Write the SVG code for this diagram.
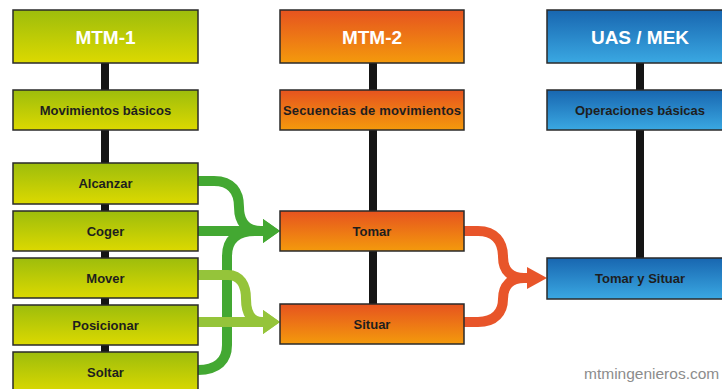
<svg xmlns="http://www.w3.org/2000/svg" width="722" height="389" viewBox="0 0 722 389">
  <defs>
    <linearGradient id="gGreen" x1="0" y1="0" x2="0" y2="1">
      <stop offset="0" stop-color="#9dbd0c"/>
      <stop offset="1" stop-color="#dcd900"/>
    </linearGradient>
    <linearGradient id="gOrange" x1="0" y1="0" x2="0" y2="1">
      <stop offset="0" stop-color="#e6531f"/>
      <stop offset="1" stop-color="#f49a0c"/>
    </linearGradient>
    <linearGradient id="gBlue" x1="0" y1="0" x2="0" y2="1">
      <stop offset="0" stop-color="#1866b0"/>
      <stop offset="1" stop-color="#3aa8e2"/>
    </linearGradient>
    <marker id="headDark" markerUnits="userSpaceOnUse" viewBox="0 0 17 24" markerWidth="17" markerHeight="24" refX="1" refY="12" orient="auto">
      <path d="M0,0 L17,12 L0,24 Z" fill="#43a832"/>
    </marker>
    <marker id="headLight" markerUnits="userSpaceOnUse" viewBox="0 0 17 24" markerWidth="17" markerHeight="24" refX="1" refY="12" orient="auto">
      <path d="M0,0 L17,12 L0,24 Z" fill="#95c43a"/>
    </marker>
    <marker id="headOrange" markerUnits="userSpaceOnUse" viewBox="0 0 20 22" markerWidth="20" markerHeight="22" refX="1" refY="11" orient="auto">
      <path d="M0,0 L20,11 L0,22 Z" fill="#e8552a"/>
    </marker>
  </defs>
  <style>
    .box { stroke: #2a2a2a; stroke-width: 1.5; }
    .green { fill: url(#gGreen); }
    .orange { fill: url(#gOrange); }
    .blue { fill: url(#gBlue); }
    .head { font-family: "Liberation Sans", Arial, sans-serif; font-weight: bold; font-size: 19px; fill: #ffffff; text-anchor: middle; }
    .lbl { font-family: "Liberation Sans", Arial, sans-serif; font-weight: bold; font-size: 13px; fill: #1e1e1e; text-anchor: middle; }
    .spine { fill: #151515; }
    .flow { fill: none; stroke-width: 10; }
    .dark { stroke: #43a832; }
    .light { stroke: #95c43a; }
    .org { stroke: #e8552a; }
    .mark { font-family: "Liberation Sans", Arial, sans-serif; font-size: 15.5px; fill: #8c8c8c; }
  </style>

  <rect width="722" height="389" fill="#ffffff"/>

  <!-- vertical spines of the three columns -->
  <g id="spines">
    <rect class="spine" x="101" y="60" width="8" height="329"/>
    <rect class="spine" x="369" y="60" width="8" height="246"/>
    <rect class="spine" x="636" y="60" width="8" height="200"/>
  </g>

  <!-- connectors -->
  <g id="connectors">
    <path class="flow dark" d="M198,181 H214 C232,181 239,192 239,207 C239,223 247,231 261,231 H264" marker-end="url(#headDark)"/>
    <path class="flow dark" d="M198,370 C218,370 227,360 227,345 V256 C227,239 238,231 255,231 H264"/>
    <path class="flow dark" d="M198,231 H264" marker-end="url(#headDark)"/>
    <path class="flow light" d="M198,275 H228 C240,275 246,285 246,299 C246,314 252,322 262,322 H264" marker-end="url(#headLight)"/>
    <path class="flow light" d="M198,322 H264" marker-end="url(#headLight)"/>
    <path class="flow org" d="M464,231 H478 C495,231 503,242 503,257 C503,271 511,278 524,278 H528" marker-end="url(#headOrange)"/>
    <path class="flow org" d="M464,322 H478 C495,322 503,312 503,299 C503,285 511,278 524,278 H528"/>
  </g>

  <!-- MTM-1 column -->
  <g id="mtm1">
    <rect class="box green" x="13" y="10" width="185" height="53"/>
    <text class="head" x="105.5" y="43.5">MTM-1</text>
  </g>
  <g id="movimientos-basicos">
    <rect class="box green" x="13" y="90" width="185" height="40"/>
    <text class="lbl" x="105.5" y="114.5">Movimientos básicos</text>
  </g>
  <g id="alcanzar">
    <rect class="box green" x="13" y="163" width="185" height="41"/>
    <text class="lbl" x="105.5" y="188">Alcanzar</text>
  </g>
  <g id="coger">
    <rect class="box green" x="13" y="211" width="185" height="40"/>
    <text class="lbl" x="105.5" y="235.5">Coger</text>
  </g>
  <g id="mover">
    <rect class="box green" x="13" y="258" width="185" height="40"/>
    <text class="lbl" x="105.5" y="282.5">Mover</text>
  </g>
  <g id="posicionar">
    <rect class="box green" x="13" y="305" width="185" height="40"/>
    <text class="lbl" x="105.5" y="329.5">Posicionar</text>
  </g>
  <g id="soltar">
    <rect class="box green" x="13" y="352" width="185" height="41"/>
    <text class="lbl" x="105.5" y="377">Soltar</text>
  </g>

  <!-- MTM-2 column -->
  <g id="mtm2">
    <rect class="box orange" x="280" y="10" width="184" height="53"/>
    <text class="head" x="372" y="43.5">MTM-2</text>
  </g>
  <g id="secuencias">
    <rect class="box orange" x="280" y="90" width="184" height="40"/>
    <text class="lbl" x="372" y="114.5" textLength="178" lengthAdjust="spacing">Secuencias de movimientos</text>
  </g>
  <g id="tomar">
    <rect class="box orange" x="280" y="211" width="184" height="40"/>
    <text class="lbl" x="372" y="235.5">Tomar</text>
  </g>
  <g id="situar">
    <rect class="box orange" x="280" y="304" width="184" height="40"/>
    <text class="lbl" x="372" y="328.5">Situar</text>
  </g>

  <!-- UAS / MEK column -->
  <g id="uas-mek">
    <rect class="box blue" x="547" y="10" width="185" height="53"/>
    <text class="head" x="640" y="43.5">UAS / MEK</text>
  </g>
  <g id="operaciones">
    <rect class="box blue" x="547" y="90" width="185" height="40"/>
    <text class="lbl" x="640" y="114.5">Operaciones básicas</text>
  </g>
  <g id="tomar-situar">
    <rect class="box blue" x="547" y="258" width="185" height="41"/>
    <text class="lbl" x="640" y="283">Tomar y Situar</text>
  </g>

  <text class="mark" x="584" y="379">mtmingenieros.com</text>
</svg>
